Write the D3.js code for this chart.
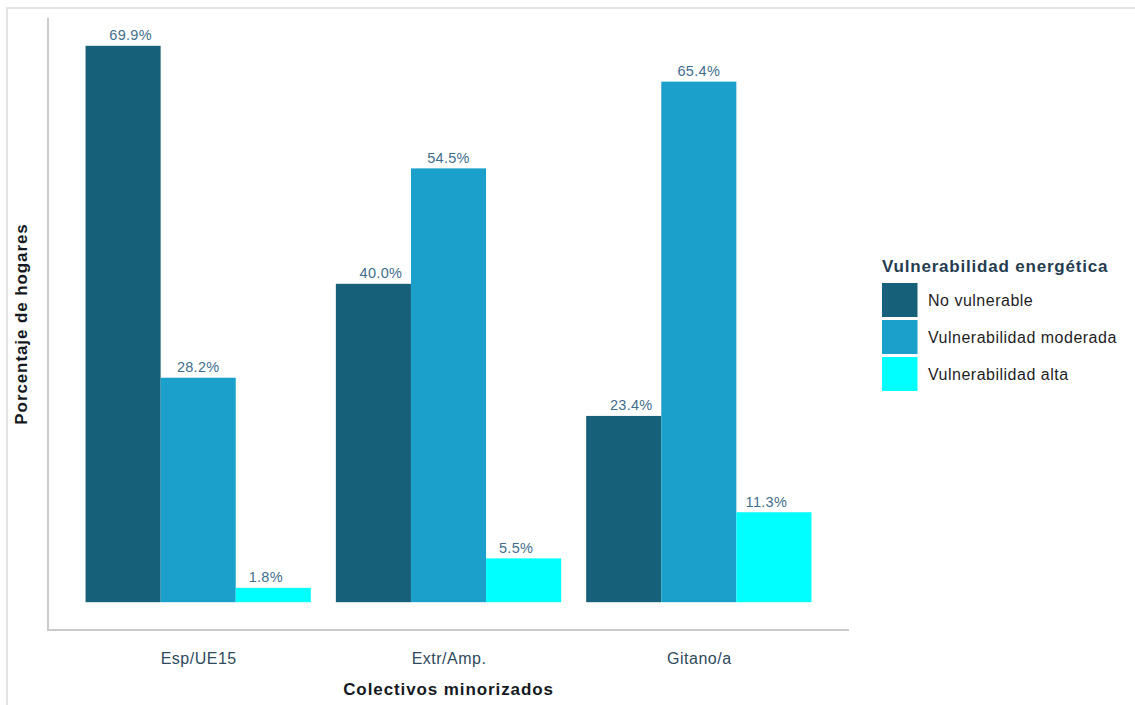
<!DOCTYPE html>
<html>
<head>
<meta charset="utf-8">
<script src="https://cdn.jsdelivr.net/npm/d3@7"></script>
<style>
  html, body { margin: 0; padding: 0; background: #fff; }
  svg { display: block; font-family: "Liberation Sans", Arial, sans-serif; }
</style>
</head>
<body>
<svg id="chart" width="1135" height="705"></svg>
<script>
// Household energy vulnerability by minority group (% of households)
const groups = ["Esp/UE15", "Extr/Amp.", "Gitano/a"];
const series = ["No vulnerable", "Vulnerabilidad moderada", "Vulnerabilidad alta"];
const noVulnerable = [69.9, 40.0, 23.4];
const moderada = [28.2, 54.5, 65.4];
const alta = [1.8, 5.5, 11.3];
const seriesValues = [noVulnerable, moderada, alta];
const colors = ["#176079", "#1aa0cb", "#00ffff"];

const xTitle = "Colectivos minorizados";
const yTitle = "Porcentaje de hogares";
const legendTitle = "Vulnerabilidad energética";

const rows = [];
groups.forEach((g, gi) => {
  series.forEach((s, si) => rows.push({ group: g, series: s, value: seriesValues[si][gi] }));
});

const svg = d3.select("#chart");

// outer frame
svg.append("path")
  .attr("d", "M7,712 L7,8 L1142,8")
  .attr("fill", "none")
  .attr("stroke", "#e4e4e4")
  .attr("stroke-width", 2);

const panel = { left: 48, right: 849, top: 18, bottom: 630 };

// discrete axis: group centres with 0.6-step expansion on each side
const x0 = d3.scalePoint()
  .domain(groups)
  .range([panel.left, panel.right])
  .padding(0.6);
const groupWidth = x0.step() * 0.9;

const x1 = d3.scaleBand().domain(series).range([-groupWidth / 2, groupWidth / 2]);
// label positions dodge slightly narrower than the bars
const xl = d3.scalePoint().domain(series).range([-groupWidth * 0.3, groupWidth * 0.3]);

const maxV = d3.max(rows, d => d.value);
const y = d3.scaleLinear()
  .domain([-0.05 * maxV, maxV * 1.05])
  .range([panel.bottom, panel.top]);

const color = d3.scaleOrdinal().domain(series).range(colors);

// axis lines
const axisColor = "#cbcbcb";
svg.append("line")
  .attr("x1", panel.left).attr("x2", panel.left)
  .attr("y1", panel.top).attr("y2", panel.bottom + 1)
  .attr("stroke", axisColor).attr("stroke-width", 2);
svg.append("line")
  .attr("x1", panel.left).attr("x2", panel.right)
  .attr("y1", panel.bottom).attr("y2", panel.bottom)
  .attr("stroke", axisColor).attr("stroke-width", 2);

// bars
svg.append("g").selectAll("rect")
  .data(rows)
  .join("rect")
  .attr("x", d => x0(d.group) + x1(d.series))
  .attr("width", x1.bandwidth())
  .attr("y", d => y(d.value))
  .attr("height", d => y(0) - y(d.value))
  .attr("fill", d => color(d.series));

// value labels
svg.append("g").selectAll("text")
  .data(rows)
  .join("text")
  .attr("x", d => x0(d.group) + xl(d.series))
  .attr("y", d => y(d.value) - 5.5)
  .attr("text-anchor", "middle")
  .attr("font-size", 14.5)
  .attr("letter-spacing", 0.3)
  .attr("fill", "#3f6f8c")
  .text(d => d.value.toFixed(1) + "%");

// x tick labels via axis
const xAxis = svg.append("g")
  .attr("transform", `translate(0,${panel.bottom})`)
  .call(d3.axisBottom(x0).tickSize(0).tickPadding(0));
xAxis.select(".domain").remove();
xAxis.selectAll("text")
  .attr("dy", null)
  .attr("y", 34)
  .attr("font-size", 16)
  .attr("letter-spacing", 0.5)
  .attr("font-family", "\"Liberation Sans\", Arial, sans-serif")
  .attr("fill", "#2e4a5c");

// axis titles
svg.append("text")
  .attr("x", (panel.left + panel.right) / 2)
  .attr("y", 695)
  .attr("text-anchor", "middle")
  .attr("font-size", 17)
  .attr("font-weight", "bold")
  .attr("letter-spacing", 0.9)
  .attr("fill", "#151a22")
  .text(xTitle);

svg.append("text")
  .attr("transform", `translate(27,${(panel.top + panel.bottom) / 2}) rotate(-90)`)
  .attr("text-anchor", "middle")
  .attr("font-size", 17)
  .attr("font-weight", "bold")
  .attr("letter-spacing", 0.9)
  .attr("fill", "#151a22")
  .text(yTitle);

// legend
const legend = svg.append("g").attr("transform", "translate(882,0)");
legend.append("text")
  .attr("x", 0).attr("y", 272)
  .attr("font-size", 17)
  .attr("font-weight", "bold")
  .attr("letter-spacing", 0.8)
  .attr("fill", "#263d50")
  .text(legendTitle);

const items = legend.selectAll("g.item")
  .data(series)
  .join("g")
  .attr("class", "item")
  .attr("transform", (d, i) => `translate(0,${283 + i * 37})`);
items.append("rect")
  .attr("width", 35.5).attr("height", 34)
  .attr("fill", d => color(d));
items.append("text")
  .attr("x", 46).attr("y", 23)
  .attr("font-size", 16)
  .attr("letter-spacing", 0.5)
  .attr("fill", "#1e1e24")
  .text(d => d);
</script>
</body>
</html>
